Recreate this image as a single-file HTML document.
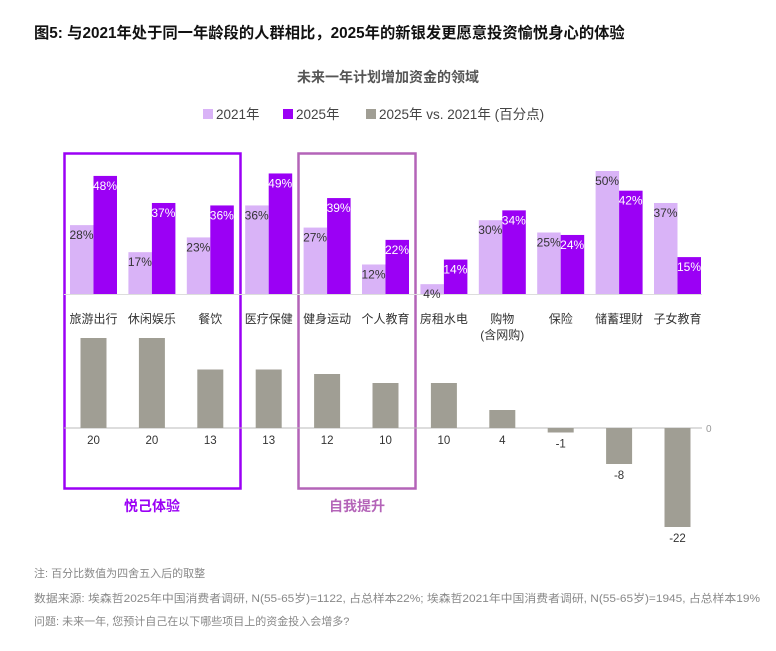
<!DOCTYPE html>
<html><head><meta charset="utf-8"><style>
body{margin:0;background:#fff;width:776px;height:646px;overflow:hidden;font-family:"Liberation Sans","Noto Sans CJK SC",sans-serif;}
svg text{font-family:"Liberation Sans","Noto Sans CJK SC",sans-serif;}
</style></head><body>
<svg id="c" width="776" height="646" xmlns="http://www.w3.org/2000/svg">
<text x="34" y="38" font-size="15.3" font-weight="bold" fill="#111">图5: 与2021年处于同一年龄段的人群相比，2025年的新银发更愿意投资愉悦身心的体验</text>
<text x="388" y="82" font-size="14" font-weight="bold" fill="#555" text-anchor="middle">未来一年计划增加资金的领域</text>
<g>
<rect x="203" y="109" width="10" height="10" fill="#d9b3f7"/>
<text x="216" y="119" font-size="13.5" fill="#444">2021年</text>
<rect x="283" y="109" width="10" height="10" fill="#9b00f5"/>
<text x="296" y="119" font-size="13.5" fill="#444">2025年</text>
<rect x="366" y="109" width="10" height="10" fill="#a09e94"/>
<text x="379" y="119" font-size="13.5" fill="#444">2025年 vs. 2021年 (百分点)</text>
</g>
<rect x="64.5" y="153.5" width="176" height="335" fill="none" stroke="#9b00f5" stroke-width="2.5"/>
<rect x="298.5" y="153.5" width="117" height="335" fill="none" stroke="#b464b8" stroke-width="2.5"/>
<text x="152" y="511" font-size="14" font-weight="bold" fill="#9b00f5" text-anchor="middle">悦己体验</text>
<text x="357" y="511" font-size="14" font-weight="bold" fill="#b464b8" text-anchor="middle">自我提升</text>
<g id="bars"></g>
<text x="34" y="577" font-size="11" fill="#888">注: 百分比数值为四舍五入后的取整</text>
<text x="34" y="602" font-size="11" fill="#888" textLength="726" lengthAdjust="spacingAndGlyphs">数据来源: 埃森哲2025年中国消费者调研, N(55-65岁)=1122, 占总样本22%; 埃森哲2021年中国消费者调研, N(55-65岁)=1945, 占总样本19%</text>
<text x="34" y="625" font-size="11" fill="#888">问题: 未来一年, 您预计自己在以下哪些项目上的资金投入会增多?</text>
</svg>
<script>
const categories=["旅游出行","休闲娱乐","餐饮","医疗保健","健身运动","个人教育","房租水电","购物|(含网购)","保险","储蓄理财","子女教育"];
const v2021=[28,17,23,36,27,12,4,30,25,50,37];
const v2025=[48,37,36,49,39,22,14,34,24,42,15];
const diff=[20,20,13,13,12,10,10,4,-1,-8,-22];
const NS="http://www.w3.org/2000/svg";
const g=document.getElementById('bars');
const base1=294,k1=2.46,base2=428,k2=4.5;
const xg=i=>70+i*58.4;
const y1=v=>base1-v*k1;
const y2=v=>base2-v*k2;
function mk(t,a,txt){const e=document.createElementNS(NS,t);for(const q in a)e.setAttribute(q,a[q]);if(txt!=null)e.textContent=txt;g.appendChild(e);return e;}
let l=mk('line',{x1:64,x2:702,y1:base1+0.5,y2:base1+0.5,stroke:'#ddd'});


l=mk('line',{x1:64,x2:702,y1:base2,y2:base2,stroke:'#bbb'});


let z=mk('text',{x:706,y:base2+4,'font-size':10,fill:'#999'},'0');


categories.forEach((c,i)=>{
  const x=xg(i);
  let r=mk('rect',{x:x,y:y1(v2021[i]),width:23.5,height:v2021[i]*k1,fill:'#d9b3f7'});
  
  
  let t=mk('text',{x:x+11.5,y:y1(v2021[i])+14,'font-size':12,fill:'#333','text-anchor':'middle'},v2021[i]+'%');
  
  
  r=mk('rect',{x:x+23.5,y:y1(v2025[i]),width:23.5,height:v2025[i]*k1,fill:'#9b00f5'});
  
  
  t=mk('text',{x:x+35,y:y1(v2025[i])+14,'font-size':12,fill:'#fff','text-anchor':'middle'},v2025[i]+'%');
  
  
  c.split('|').forEach((s,j)=>{
    const ct=mk('text',{x:x+23.5,y:323+j*16,'font-size':12,fill:'#333','text-anchor':'middle'},s);
    
    
  });
  const d=diff[i];
  r=mk('rect',{x:x+10.5,y:Math.min(y2(d),base2),width:26,height:Math.abs(d)*k2,fill:'#a09e94'});
  
  
  t=mk('text',{x:x+23.5,y:d>=0?base2+16:y2(d)+15,'font-size':11.5,fill:'#333','text-anchor':'middle'},String(d));
  
  
});
</script>
</body></html>
